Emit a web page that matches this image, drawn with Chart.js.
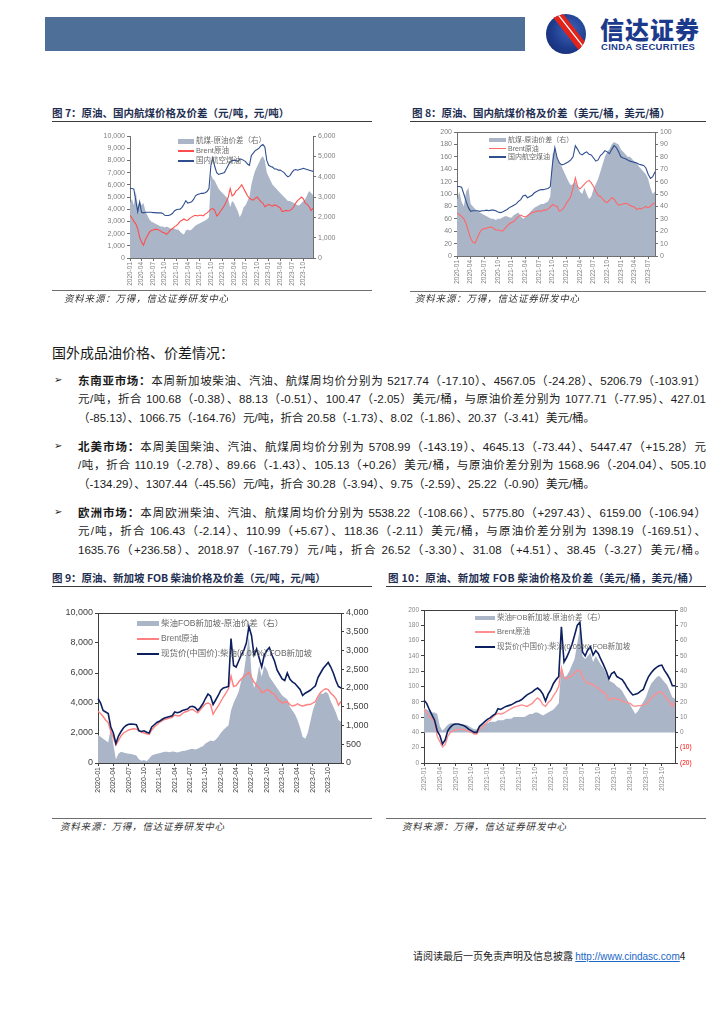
<!DOCTYPE html>
<html lang="zh-CN">
<head>
<meta charset="utf-8">
<title>原油、成品油价格及价差</title>
<script src="https://cdn.jsdelivr.net/npm/chart.js@4.4.0/dist/chart.umd.min.js"></script>
<style>
  html, body { margin: 0; padding: 0; background: #fff; }
  body { width: 724px; height: 1024px; position: relative; overflow: hidden;
         font-family: "Liberation Sans", "Noto Sans CJK SC", sans-serif; color: #1a1a1a; }
  .abs { position: absolute; }
  .bar { left: 45px; top: 17px; width: 480px; height: 34px; background: #4d6f98; }
  .logo { left: 546px; top: 14px; width: 40px; height: 40px; border-radius: 50%;
          background: radial-gradient(circle at 60% 40%, #3f63b8 0%, #1d3b8c 55%, #12266a 100%); overflow: hidden; }
  .logo .s1, .logo .s2 { position: absolute; left: -10px; width: 72px; height: 5px; background: #e2231a; transform: rotate(52deg); }
  .logo .s1 { top: 13px; } .logo .s2 { top: 21px; }
  .logo .w { position: absolute; left: -10px; top: 18px; width: 72px; height: 2px; background: #fff; transform: rotate(52deg); }
  .brand { left: 600px; top: 15px; font-family: "Noto Sans CJK SC"; font-weight: 900; font-size: 24px; color: #1b3a8c; letter-spacing: 1px; line-height: 27px; }
  .brand2 { left: 601px; top: 42px; font-family: "Liberation Sans"; font-weight: bold; font-size: 9.5px; color: #1b3a8c; letter-spacing: 0.3px; line-height: 10px; }
  .ttl { font-family: "Noto Sans CJK SC"; font-weight: bold; font-size: 10.5px; color: #1f2f52; line-height: 12px; white-space: nowrap; }
  .rule { height: 0; border-top: 1px solid #3a3a3a; }
  .srule { height: 0; border-top: 1.5px solid #6f6f6f; }
  .src { font-family: "Noto Sans CJK SC"; font-style: italic; font-size: 9.5px; color: #333; line-height: 11px; white-space: nowrap; letter-spacing: 0.8px; }
  .box { position: absolute; }
  .lg { position: absolute; white-space: nowrap; line-height: 1; font-family: "Liberation Sans", "Noto Sans CJK SC"; }
  .sw { display: inline-block; vertical-align: middle; margin-right: 2px; }
  .h2 { left: 52px; top: 343px; font-family: "Noto Sans CJK SC"; font-size: 14px; line-height: 18px; color: #1a1a1a; }
  .bul { left: 54px; font-family: "DejaVu Sans"; font-size: 10px; line-height: 14px; }
  .ln { position: absolute; left: 78px; width: 628px; font-size: 11.5px; line-height: 14px; white-space: nowrap;
        text-align: justify; text-align-last: justify; }
  .ln.last { text-align-last: left; }
  .ln b { font-family: "Noto Sans CJK SC"; font-weight: bold; }
  .foot { left: 413px; top: 949px; font-size: 10px; line-height: 13px; white-space: nowrap; font-family: "Noto Sans CJK SC"; }
  .foot a { color: #1a66c9; text-decoration: underline; font-family: "Liberation Sans"; }
</style>
</head>
<body>

<div class="abs bar"></div>
<div class="abs logo"><div class="s1"></div><div class="w"></div><div class="s2"></div></div>
<div class="abs brand">信达证券</div>
<div class="abs brand2">CINDA SECURITIES</div>

<!-- 图 7 -->
<div class="abs ttl" style="left:52px;top:107px">图 7：原油、国内航煤价格及价差（元/吨，元/吨）</div>
<div class="abs rule" style="left:52px;top:121px;width:320px"></div>
<div class="box" style="left:92px;top:127px;width:253px;height:173px"><canvas id="c7"></canvas></div>
<div class="lg" style="left:178px;top:137px;font-size:7.5px;color:#6a6a6a"><span class="sw" style="width:16px;height:5px;background:#aab6c8"></span>航煤-原油价差（右）</div>
<div class="lg" style="left:178px;top:147px;font-size:7.5px;color:#6a6a6a"><span class="sw" style="width:16px;height:1.5px;background:#ff4d4d"></span>Brent原油</div>
<div class="lg" style="left:178px;top:157px;font-size:7.5px;color:#6a6a6a"><span class="sw" style="width:16px;height:1.5px;background:#2f4f8f"></span>国内航空煤油</div>
<div class="abs srule" style="left:52px;top:290px;width:320px"></div>
<div class="abs src" style="left:64px;top:293px">资料来源：万得，信达证券研发中心</div>

<!-- 图 8 -->
<div class="abs ttl" style="left:412px;top:107px">图 8：原油、国内航煤价格及价差（美元/桶，美元/桶）</div>
<div class="abs rule" style="left:410px;top:121px;width:296px"></div>
<div class="box" style="left:420px;top:124px;width:258px;height:166px"><canvas id="c8"></canvas></div>
<div class="lg" style="left:489px;top:136px;font-size:7px;color:#6a6a6a"><span class="sw" style="width:17px;height:4px;background:#aab6c8"></span>航煤-原油价差（右）</div>
<div class="lg" style="left:489px;top:144.5px;font-size:7px;color:#6a6a6a"><span class="sw" style="width:17px;height:1.5px;background:#ff6666"></span>Brent原油</div>
<div class="lg" style="left:489px;top:153px;font-size:7px;color:#6a6a6a"><span class="sw" style="width:17px;height:1.5px;background:#2f4f8f"></span>国内航空煤油</div>
<div class="abs srule" style="left:410px;top:291px;width:296px"></div>
<div class="abs src" style="left:415px;top:293px">资料来源：万得，信达证券研发中心</div>

<!-- 正文 -->
<div class="abs h2">国外成品油价格、价差情况：</div>

<div class="abs bul" style="top:373px">➢</div>
<div class="ln" style="top:373px"><b>东南亚市场：</b>本周新加坡柴油、汽油、航煤周均价分别为 5217.74（-17.10）、4567.05（-24.28）、5206.79（-103.91）</div>
<div class="ln" style="top:392px">元/吨，折合 100.68（-0.38）、88.13（-0.51）、100.47（-2.05）美元/桶，与原油价差分别为 1077.71（-77.95）、427.01</div>
<div class="ln last" style="top:411px">（-85.13）、1066.75（-164.76）元/吨，折合 20.58（-1.73）、8.02（-1.86）、20.37（-3.41）美元/桶。</div>

<div class="abs bul" style="top:439px">➢</div>
<div class="ln" style="top:439px"><b>北美市场：</b>本周美国柴油、汽油、航煤周均价分别为 5708.99（-143.19）、4645.13（-73.44）、5447.47（+15.28）元</div>
<div class="ln" style="top:458px">/吨，折合 110.19（-2.78）、89.66（-1.43）、105.13（+0.26）美元/桶，与原油价差分别为 1568.96（-204.04）、505.10</div>
<div class="ln last" style="top:477px">（-134.29）、1307.44（-45.56）元/吨，折合 30.28（-3.94）、9.75（-2.59）、25.22（-0.90）美元/桶。</div>

<div class="abs bul" style="top:505px">➢</div>
<div class="ln" style="top:505px"><b>欧洲市场：</b>本周欧洲柴油、汽油、航煤周均价分别为 5538.22（-108.66）、5775.80（+297.43）、6159.00（-106.94）</div>
<div class="ln" style="top:524px">元/吨，折合 106.43（-2.14）、110.99（+5.67）、118.36（-2.11）美元/桶，与原油价差分别为 1398.19（-169.51）、</div>
<div class="ln" style="top:543px">1635.76（+236.58）、2018.97（-167.79）元/吨，折合 26.52（-3.30）、31.08（+4.51）、38.45（-3.27）美元/桶。</div>

<!-- 图 9 -->
<div class="abs ttl" style="left:52px;top:572px">图 9：原油、新加坡 FOB 柴油价格及价差（元/吨，元/吨）</div>
<div class="abs rule" style="left:52px;top:586px;width:320px"></div>
<div class="box" style="left:52px;top:604px;width:328px;height:200px"><canvas id="c9"></canvas></div>
<div class="lg" style="left:137px;top:619px;font-size:8.5px;color:#6a6a6a"><span class="sw" style="width:22px;height:5px;background:#aab6c8"></span>柴油FOB新加坡-原油价差（右）</div>
<div class="lg" style="left:137px;top:634px;font-size:8.5px;color:#6a6a6a"><span class="sw" style="width:22px;height:2px;background:#ff8080"></span>Brent原油</div>
<div class="lg" style="left:137px;top:649px;font-size:8.5px;color:#6a6a6a"><span class="sw" style="width:22px;height:2.5px;background:#0c1f5e"></span>现货价(中国价):柴油(0.05%):FOB新加坡</div>
<div class="abs srule" style="left:52px;top:818px;width:320px"></div>
<div class="abs src" style="left:60px;top:821px">资料来源：万得，信达证券研发中心</div>

<!-- 图 10 -->
<div class="abs ttl" style="left:388px;top:572px;letter-spacing:0.3px">图 10：原油、新加坡 FOB 柴油价格及价差（美元/桶，美元/桶）</div>
<div class="abs rule" style="left:386px;top:586px;width:320px"></div>
<div class="box" style="left:392px;top:601px;width:313px;height:203px"><canvas id="c10"></canvas></div>
<div class="lg" style="left:475px;top:614px;font-size:7.5px;color:#6a6a6a"><span class="sw" style="width:20px;height:4px;background:#aab6c8"></span>柴油FOB新加坡-原油价差（右）</div>
<div class="lg" style="left:475px;top:627.5px;font-size:7.5px;color:#6a6a6a"><span class="sw" style="width:20px;height:2px;background:#ff8f8f"></span>Brent原油</div>
<div class="lg" style="left:475px;top:643px;font-size:7.5px;color:#6a6a6a"><span class="sw" style="width:20px;height:2.5px;background:#0c1f5e"></span>现货价(中国价):柴油(0.05%):FOB新加坡</div>
<div class="abs srule" style="left:386px;top:818px;width:320px"></div>
<div class="abs src" style="left:402px;top:821px">资料来源：万得，信达证券研发中心</div>

<div class="abs foot">请阅读最后一页免责声明及信息披露 <a>http://www.cindasc.com</a>4</div>

<script>
// ---- data (semi-monthly readings, 2020-01 .. 2023-12) ----
const months = ['2020-01','2020-02','2020-03','2020-04','2020-05','2020-06','2020-07','2020-08','2020-09','2020-10','2020-11','2020-12',
                '2021-01','2021-02','2021-03','2021-04','2021-05','2021-06','2021-07','2021-08','2021-09','2021-10','2021-11','2021-12',
                '2022-01','2022-02','2022-03','2022-04','2022-05','2022-06','2022-07','2022-08','2022-09','2022-10','2022-11','2022-12',
                '2023-01','2023-02','2023-03','2023-04','2023-05','2023-06','2023-07','2023-08','2023-09','2023-10','2023-11','2023-12'];

// 图7 元/吨
const jet7 = [5700,5700,5650,4700,3800,4600,3750,3700,3750,3750, 3750,3750,3720,3720,3700,3700,3700,3650,3500,3480,
              3480,3550,3650,3850,3950,4000,4000,4150,4400,4700, 4500,4550,4600,4800,5100,5200,5250,5300,5300,5350,
              5450,5700,7600,8200,7500,7000,6850,6900,6950,7000, 7300,7600,7900,8000,8000,8000,7900,8100,8100,8000,
              7900,7700,7600,8400,8600,8800,8900,9000,9200,9300, 9100,8000,7600,7500,7450,7300,7300,7200,7200,7100,
              7000,6800,6650,6750,7000,7200,7250,7200,7250,7300, 7350,7300,7250,7200,7150,7100];
const brent7 = [3500,3300,3000,2800,2400,1700,1300,1050,1500,1800, 2100,2250,2300,2350,2350,2300,2200,2100,2050,1950,
                2100,2300,2400,2550,2650,2800,3000,3100,3200,3100, 3100,3250,3350,3450,3500,3450,3500,3500,3450,3600,
                3700,3850,4000,4050,3900,3450,3600,3850,4050,4300, 4600,5000,5700,5100,5200,5500,5600,5800,6000,5700,
                5400,5100,4900,4800,4750,4900,5000,4800,4600,4500, 4200,4300,4400,4300,4250,4350,4300,4200,4100,3800,
                3850,3900,3850,3900,4000,4200,4500,4700,4850,5000, 4850,4500,4400,4200,3900,4100];
const spread7 = [2700,2900,2600,3300,2500,2800,2600,2700,2300,2100, 1900,1800,1750,1700,1650,1600,1550,1550,1500,1550,
                 1500,1450,1450,1450,1400,1400,1300,1200,1150,1350, 1400,1350,1400,1500,1600,1650,1700,1750,1800,1850,
                 1900,2000,4100,3900,3800,3600,3400,3300,3200,3100, 3000,2900,2500,2800,2700,2500,2300,2000,2200,2500,
                 2600,2800,3000,3600,4000,4300,4500,4700,4900,5000, 4800,4200,4000,3800,3600,3500,3400,3300,3200,3100,
                 3000,2900,2800,2800,2750,2700,2650,2600,2600,2700, 2800,2900,3100,3300,3200,3100];

// 图8 美元/桶 (2020-01 .. 2023-08)
const jet8 = [112,112,111,100,88,78,72,73,73,73, 72,73,73,74,73,74,74,73,71,70,
              71,73,75,78,80,82,84,88,91,97, 98,94,96,98,102,104,106,107,107,108,
              109,112,150,175,158,150,147,148,150,152, 155,160,178,172,165,163,166,168,164,163,
              158,153,155,162,165,170,168,165,172,178, 175,168,160,158,157,155,153,152,151,150,
              148,147,146,142,132,125,128,136];
const brent8 = [69,67,64,60,52,40,28,22,21,30, 38,43,44,45,46,47,45,42,42,41,
                40,44,48,52,54,56,60,64,66,64, 63,65,68,70,71,72,73,72,74,74,
                76,79,83,81,80,72,74,78,85,90, 96,110,126,112,108,112,116,120,122,118,
                112,104,98,96,92,88,86,90,94,92, 86,82,83,84,85,84,82,80,79,75,
                77,76,78,80,78,80,84,85];
const spread8 = [45,52,44,40,52,55,42,40,38,36, 35,34,33,32,31,30,30,29,30,30,
                 31,32,32,31,31,33,34,35,32,30, 31,33,35,37,39,40,41,42,42,43,
                 44,48,82,86,78,75,72,68,64,60, 57,58,60,56,52,50,55,50,46,48,
                 54,58,62,68,74,80,84,86,90,92, 91,90,86,84,82,80,80,78,76,75,
                 72,70,68,66,62,55,50,52];

// 图9 元/吨
const diesel9 = [4300,4000,3500,3400,3300,2400,2000,1300,1800,2100, 2350,2500,2580,2600,2580,2550,2150,2100,2150,2050,
                 2000,2400,2550,2700,2780,2900,3000,3050,3100,3150, 3400,3350,3400,3500,3550,3600,3750,3780,3700,3500,
                 3700,3950,4300,4600,4450,3900,4200,4500,4850,5000, 5050,5100,8300,6500,6400,6800,7200,7500,8000,9100,
                 8500,7200,7600,7000,6400,7200,7500,7700,7200,6800, 6200,5900,5600,5500,6000,5600,5400,5300,5100,4900,
                 4500,4650,4750,4850,5000,5150,5700,6000,6300,6500, 6700,6400,6000,5500,5100,5000];
const brent9 = [3450,3300,3100,2850,2700,2100,1700,1200,1500,1800, 2000,2100,2200,2250,2280,2260,2150,2050,2000,1950,
                1900,2200,2400,2550,2700,2800,2900,2950,3000,3050, 3200,3150,3150,3300,3400,3450,3550,3580,3450,3350,
                3550,3750,3950,4000,3900,3250,3550,3800,4100,4400, 4650,4950,5800,5100,5150,5400,5600,5750,5900,6050,
                5700,5400,5200,5000,4700,4750,4900,4850,4650,4600, 4300,4150,4000,4050,4100,3900,3800,3850,3950,3850,
                3800,3850,3900,3900,4000,4100,4450,4700,4850,4950, 4900,4650,4500,4300,3850,4100];
const spread9 = [750,700,650,600,550,950,500,100,250,300, 280,260,250,240,220,200,100,60,80,50,
                 120,200,230,250,260,280,300,300,290,310, 300,280,300,320,330,350,370,380,360,380,
                 420,450,520,560,600,580,620,700,800,880, 950,1000,1400,1600,1750,1900,2200,2400,2900,3400,
                 2400,2000,2200,2600,2300,2600,2500,2300,2200,2100, 2000,1900,1800,1750,1700,1500,1400,1300,1150,950,
                 700,650,800,1100,1400,1600,1750,1850,1850,1900, 1850,1650,1500,1350,1150,1100];

// 图10 美元/桶
const diesel10 = [82,78,70,63,56,42,36,25,30,42, 47,50,51,51,50,49,47,44,42,40,
                  40,48,51,54,57,59,62,64,71,70, 72,74,75,76,78,80,81,83,86,89,
                  91,93,96,98,95,90,81,90,96,104, 109,113,178,132,138,146,155,167,180,184,
                  145,140,148,152,141,147,143,135,128,120, 110,117,119,113,111,109,104,98,93,89,
                  90,91,94,96,105,113,118,122,125,127, 128,121,116,110,101,101];
const brent10 = [70,66,61,58,54,35,28,21,24,35, 40,42,43,44,44,44,43,41,40,38,
                 38,44,47,50,54,56,60,63,65,64, 65,67,69,71,73,74,75,76,75,74,
                 76,78,82,85,82,76,74,79,82,88, 93,100,124,112,110,113,114,118,121,121,
                 112,108,104,104,102,100,98,94,93,89, 82,84,85,83,83,81,80,79,78,75,
                 74,75,75,76,77,81,85,88,91,93, 93,88,84,80,74,80];
const spread10 = [16,15,14,13,13,12,4,1,3,5, 6,6,6,5,5,5,5,4,3,2,
                  2,4,6,6,6,7,7,7,8,8, 8,9,9,9,10,10,10,10,10,11,
                  12,12,13,13,12,11,12,13,14,15, 17,19,44,36,37,40,44,48,58,68,
                  50,48,50,52,46,50,47,44,42,38, 34,33,32,30,29,27,24,21,18,15,
                  12,14,17,20,23,28,32,34,36,37, 35,33,31,27,23,22];

// tick values
const ticks7L = [0,1000,2000,3000,4000,5000,6000,7000,8000,9000,10000];
const ticks7R = [0,1000,2000,3000,4000,5000,6000];
const ticks8L = [0,20,40,60,80,100,120,140,160,180,200];
const ticks8R = [0,10,20,30,40,50,60,70,80,90,100];
const ticks9L = [0,2000,4000,6000,8000,10000];
const ticks9R = [0,500,1000,1500,2000,2500,3000,3500,4000];
const ticks10L = [0,20,40,60,80,100,120,140,160,180,200];
const ticks10R = [-20,-10,0,10,20,30,40,50,60,70,80];

const halfMonths = months.flatMap(m => [m, m]);
const AREA = '#aab6c8';

Chart.defaults.font.family = '"Liberation Sans", "Noto Sans CJK SC", sans-serif';

const thousands = v => v.toLocaleString('en-US');
const paren = v => (v < 0 ? '(' + Math.abs(v) + ')' : String(v));

// plot frame top edge
const frameTop = {
    id: 'frameTop',
    afterDraw(chart, args, opts) {
        if (!opts.color) return;
        const { ctx, chartArea: a } = chart;
        ctx.save();
        ctx.strokeStyle = opts.color;
        ctx.lineWidth = 1;
        ctx.beginPath();
        ctx.moveTo(a.left, a.top + 0.5);
        ctx.lineTo(a.right, a.top + 0.5);
        ctx.stroke();
        ctx.restore();
    }
};

function valueAxis(pos, vals, width, o, fmt, colorFn) {
    return {
        position: pos,
        min: vals[0],
        max: vals[vals.length - 1],
        afterFit: s => { s.width = width; },
        afterBuildTicks: s => { s.ticks = vals.map(v => ({ value: v })); },
        border: { color: o.axis, width: 1 },
        grid: { drawOnChartArea: false, tickLength: 3, color: o.axis },
        ticks: { font: { size: o.yfs }, color: colorFn || o.tick, padding: 2, callback: fmt }
    };
}

function buildChart(id, o) {
    const labels = o.labels;
    return new Chart(document.getElementById(id), {
        type: 'line',
        data: {
            labels: labels,
            datasets: [
                { data: o.dark, yAxisID: 'y', borderColor: o.darkColor, borderWidth: o.darkWidth, pointRadius: 0, fill: false, order: 1 },
                { data: o.red, yAxisID: 'y', borderColor: o.redColor, borderWidth: o.redWidth, pointRadius: 0, fill: false, order: 2 },
                { data: o.area, yAxisID: 'y1', borderColor: 'rgba(0,0,0,0)', borderWidth: 0, backgroundColor: AREA, pointRadius: 0, fill: 'origin', order: 3 }
            ]
        },
        options: {
            animation: false,
            responsive: true,
            maintainAspectRatio: false,
            layout: { padding: { top: o.padTop, left: 0, right: 0, bottom: 0 } },
            plugins: { legend: { display: false }, tooltip: { enabled: false }, frameTop: { color: o.frame } },
            scales: {
                x: {
                    afterFit: s => { s.height = o.xh; },
                    border: { color: o.axis, width: 1 },
                    grid: { drawOnChartArea: false, tickLength: 3, color: c => (c.index % 6 === 0 ? o.axis : 'rgba(0,0,0,0)') },
                    ticks: {
                        autoSkip: false, maxRotation: 90, minRotation: 90, padding: 1,
                        font: { size: o.xfs }, color: o.tick,
                        callback: (v, i) => (i % 6 === 0 ? labels[i] : '')
                    }
                },
                y: valueAxis('left', o.left, o.lw, o, o.fmtL),
                y1: valueAxis('right', o.right, o.rw, o, o.fmtR, o.rightColor)
            }
        },
        plugins: [frameTop]
    });
}

buildChart('c7', {
    labels: halfMonths, dark: jet7, red: brent7, area: spread7,
    darkColor: '#2f4f8f', darkWidth: 1.1, redColor: '#ff4d4d', redWidth: 1.1,
    left: ticks7L, right: ticks7R, fmtL: thousands, fmtR: thousands,
    lw: 38, rw: 32, xh: 42, padTop: 9, yfs: 7, xfs: 6.5,
    axis: '#6f6f6f', tick: '#7f7f7f', frame: null
});

buildChart('c8', {
    labels: halfMonths.slice(0, 88), dark: jet8, red: brent8, area: spread8,
    darkColor: '#2f4f8f', darkWidth: 1.1, redColor: '#ff6666', redWidth: 1.1,
    left: ticks8L, right: ticks8R, fmtL: thousands, fmtR: thousands,
    lw: 37, rw: 23, xh: 34, padTop: 8, yfs: 7, xfs: 6.5,
    axis: '#6f6f6f', tick: '#7f7f7f', frame: '#6f6f6f'
});

buildChart('c9', {
    labels: halfMonths, dark: diesel9, red: brent9, area: spread9,
    darkColor: '#0c1f5e', darkWidth: 1.6, redColor: '#ff8080', redWidth: 1.4,
    left: ticks9L, right: ticks9R, fmtL: thousands, fmtR: thousands,
    lw: 46, rw: 39, xh: 41, padTop: 9, yfs: 9, xfs: 7,
    axis: '#404040', tick: '#404040', frame: '#404040'
});

buildChart('c10', {
    labels: halfMonths, dark: diesel10, red: brent10, area: spread10,
    darkColor: '#0c1f5e', darkWidth: 1.6, redColor: '#ff8f8f', redWidth: 1.4,
    left: ticks10L, right: ticks10R, fmtL: thousands, fmtR: paren,
    rightColor: c => (c.tick && c.tick.value < 0 ? '#ff0000' : '#8a8a8a'),
    lw: 32, rw: 30, xh: 41, padTop: 9, yfs: 6.5, xfs: 6.5,
    axis: '#404040', tick: '#8a8a8a', frame: '#404040'
});
</script>
</body>
</html>
